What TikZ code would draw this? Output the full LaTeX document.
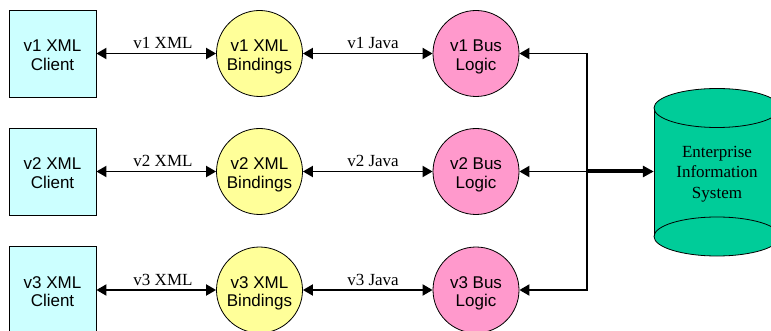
\documentclass[tikz,border=0pt]{standalone}
\usepackage{fontspec}
\setmainfont{Liberation Serif}
\newfontfamily\helv{Liberation Sans}
\usetikzlibrary{arrows.meta}
\definecolor{clientfill}{HTML}{CCFFFF}
\definecolor{bindfill}{HTML}{FFFF99}
\definecolor{logicfill}{HTML}{FF99CC}
\definecolor{eisfill}{HTML}{00CC99}
\begin{document}
\begin{tikzpicture}[x=1pt,y=-1pt,
  nodetext/.style={inner sep=0pt, align=center, text height=37.5pt, text depth=3.6pt,
    font=\helv\fontsize{17}{18.5}\selectfont},
  client/.style={nodetext, draw, line width=0.8pt, fill=clientfill,
    minimum width=87pt, minimum height=87pt},
  bind/.style={nodetext, circle, draw, line width=0.8pt, fill=bindfill,
    minimum size=86pt},
  logic/.style={bind, fill=logicfill},
  link/.style={line width=1.9pt, {Triangle[length=10pt,width=11pt]}-{Triangle[length=10pt,width=11pt]}},
  feed/.style={line width=1.9pt, -{Triangle[length=10pt,width=11pt]}},
  lbl/.style={anchor=base, inner sep=0pt, font=\fontsize{17}{20}\selectfont}
]
\useasboundingbox (0,0) rectangle (771,331);
\clip (0,0) rectangle (771,331);

% enterprise information system drum
\fill[eisfill] (654,108) rectangle (780,236.5);
\filldraw[fill=eisfill, line width=0.8pt] (717,236.5) ellipse [x radius=63, y radius=19.5];
\draw[line width=0.8pt] (654,108) -- (654,236.5) (780,108) -- (780,236.5);
\filldraw[fill=eisfill, line width=0.8pt] (717,108) ellipse [x radius=63, y radius=19.5];
\node[minimum width=126pt, minimum height=128pt, inner sep=0pt, align=center,
  font=\fontsize{17}{20.5}\selectfont] (eis) at (717,174)
  {Enterprise\\Information\\System};

% three versions of the service stack
\foreach \i/\y in {1/53.5,2/171.5,3/290} {
  \node[client] (c\i) at (52.5,\y) {v\i\ XML\\Client};
  \node[bind] (b\i) at (259.5,\y) {v\i\ XML\\Bindings};
  \node[logic] (l\i) at (476,\y) {v\i\ Bus\\Logic};
  \draw[link] (c\i) -- (b\i);
  \draw[link] (b\i) -- (l\i);
  \node[lbl] (xl\i) at (163,\y-4.5) {v\i\ XML};
  \node[lbl] (jl\i) at (373,\y-4.5) {v\i\ Java};
  \coordinate (j\i) at (587,\y);
}

% shared bus to the back end
\draw[line width=1.9pt, line cap=rect] (j1) -- (j3);
\draw[feed] (j1) -- (l1);
\draw[feed] (j2) -- (l2);
\draw[feed] (j3) -- (l3);
\draw[line width=4pt, -{Triangle[length=11pt,width=11pt]}] (j2) -- (j2 -| eis.west);
\end{tikzpicture}
\end{document}
